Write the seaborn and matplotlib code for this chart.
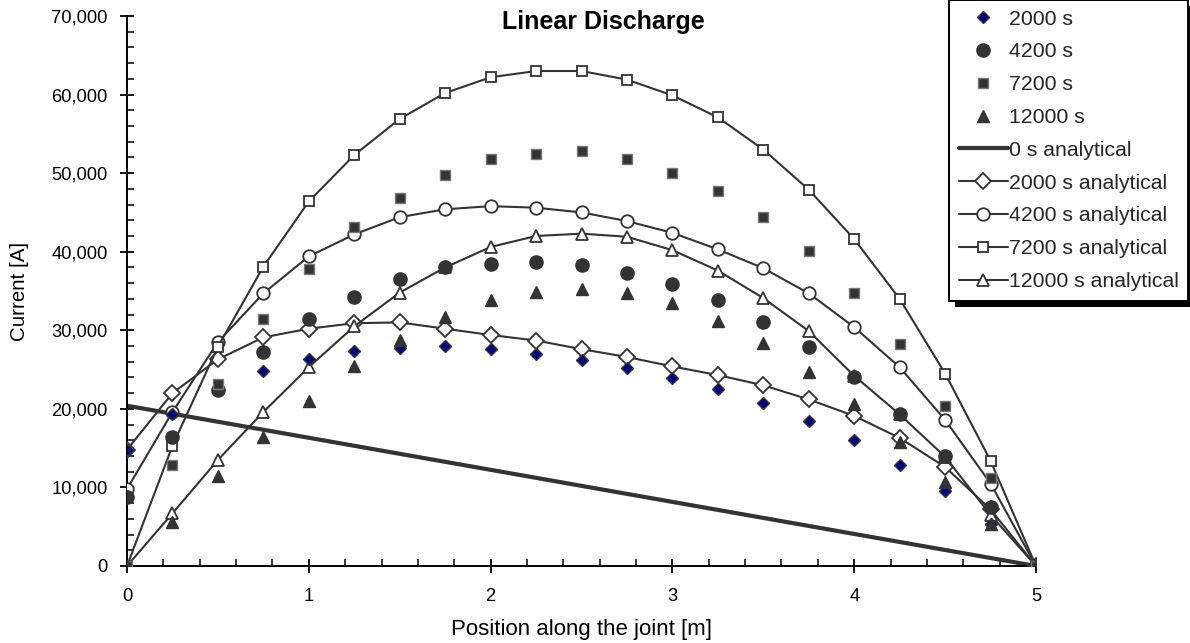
import matplotlib
matplotlib.use("Agg")
import matplotlib.pyplot as plt
import seaborn as sns
import numpy as np
from matplotlib.ticker import FuncFormatter, MultipleLocator
from matplotlib.patches import Rectangle

# ---------------- data ----------------
position = [0, 0.25, 0.5, 0.75, 1.0, 1.25, 1.5, 1.75, 2.0, 2.25, 2.5,
            2.75, 3.0, 3.25, 3.5, 3.75, 4.0, 4.25, 4.5, 4.75, 5.0]

meas_2000 = [14800, 19300, 22600, 24800, 26400, 27400, 27800, 28000, 27600, 27000, 26200,
             25200, 23900, 22500, 20700, 18500, 16000, 12900, 9500, 5300, 0]
meas_4200 = [8800, 16400, 22400, 27300, 31400, 34300, 36500, 38000, 38500, 38700, 38300,
             37300, 35900, 33900, 31100, 27900, 24100, 19400, 14000, 7500, 0]
meas_7200 = [0, 12800, 23200, 31400, 37800, 43100, 46900, 49800, 51800, 52500, 52800,
             51800, 50000, 47700, 44400, 40100, 34700, 28300, 20400, 11200, 0]
meas_12000 = [0, 5600, 11400, 16400, 21000, 25400, 28800, 31700, 33800, 34900, 35200,
              34800, 33500, 31200, 28400, 24700, 20600, 15800, 10700, 5400, 0]

pos_0s = [0, 5]
ana_0 = [20400, 0]
ana_2000 = [14800, 22000, 26300, 29100, 30200, 30900, 31000, 30200, 29400, 28700, 27600,
            26600, 25400, 24300, 23000, 21200, 19100, 16300, 12600, 7200, 0]
ana_4200 = [9800, 19600, 28500, 34700, 39400, 42200, 44400, 45400, 45800, 45600, 45000,
            43900, 42400, 40300, 37900, 34700, 30400, 25300, 18600, 10500, 0]
ana_7200 = [0, 15300, 27900, 38100, 46400, 52300, 56900, 60200, 62200, 63000, 63000,
            61900, 59900, 57100, 53000, 47900, 41600, 34000, 24500, 13400, 0]
ana_12000 = [0, 6700, 13500, 19600, 25300, 30500, 34800, 38000, 40600, 42000, 42300,
             41900, 40200, 37600, 34100, 29900, 24200, 19300, 13900, 6500, 0]

labels_meas = ["2000 s", "4200 s", "7200 s", "12000 s"]
labels_ana = ["0 s analytical", "2000 s analytical", "4200 s analytical",
              "7200 s analytical", "12000 s analytical"]

# ---------------- style ----------------
sns.set_theme(style="white")
plt.rcParams["font.family"] = ["Liberation Sans", "DejaVu Sans"]
plt.rcParams["font.size"] = 13

DARK = "#333333"
W, H = 1190, 643

fig = plt.figure(figsize=(W / 100, H / 100), dpi=100)
ax = fig.add_axes([127 / W, 1 - 566 / H, (1036 - 127) / W, (566 - 16) / H])

# analytical lines
sns.lineplot(x=pos_0s, y=ana_0, ax=ax, color=DARK, linewidth=3.0, label=labels_ana[0],
             legend=False, zorder=2)
ana_specs = [(ana_2000, "D", 8.5), (ana_4200, "o", 9.0), (ana_7200, "s", 6.5), (ana_12000, "^", 8.0)]
for (vals, mk, ms), lab in zip(ana_specs, labels_ana[1:]):
    sns.lineplot(x=position, y=vals, ax=ax, color=DARK, linewidth=1.5, marker=mk,
                 markersize=ms, markerfacecolor="white", markeredgecolor=DARK,
                 markeredgewidth=1.3, label=lab, legend=False, zorder=3)

# measured (numerical) points
meas_specs = [(meas_2000, "D", 6.5, "#000080", DARK),
              (meas_4200, "o", 9.5, DARK, DARK),
              (meas_7200, "s", 6.5, DARK, "#777777"),
              (meas_12000, "^", 8.0, DARK, DARK)]
for (vals, mk, ms, fc, ec), lab in zip(meas_specs, labels_meas):
    sns.lineplot(x=position, y=vals, ax=ax, color=fc, linestyle="none", marker=mk,
                 markersize=ms, markerfacecolor=fc, markeredgecolor=ec,
                 markeredgewidth=1.0, label=lab, legend=False, zorder=4)

# axes
ax.set_xlim(0, 5)
ax.set_ylim(0, 70000)
ax.xaxis.set_major_locator(MultipleLocator(1))
ax.xaxis.set_minor_locator(MultipleLocator(0.2))
ax.yaxis.set_major_locator(MultipleLocator(10000))
ax.yaxis.set_minor_locator(MultipleLocator(2000))
ax.yaxis.set_major_formatter(FuncFormatter(lambda v, p: f"{v:,.0f}"))
ax.xaxis.set_major_formatter(FuncFormatter(lambda v, p: f"{v:g}"))

for side in ["top", "right"]:
    ax.spines[side].set_visible(False)
for side in ["left", "bottom"]:
    ax.spines[side].set_color("black")
    ax.spines[side].set_linewidth(1.4)

ax.tick_params(axis="both", which="major", direction="inout", length=10, width=1.3,
               color="black", labelsize=13.2, labelcolor="black")
ax.tick_params(axis="both", which="minor", direction="in", length=5, width=1.1, color="black")
ax.tick_params(axis="y", which="major", pad=9)
ax.tick_params(axis="x", which="major", pad=11)
ax.tick_params(bottom=True, left=True, which="both")

ax.set_xlabel("Position along the joint [m]", fontsize=16.0, color="black", va="center")
ax.xaxis.set_label_coords(0.5, -(629 - 566) / 550)
ax.set_ylabel("Current [A]", fontsize=14.8, color="black", va="center")
ax.yaxis.set_label_coords((20 - 127) / 909, 0.5)

fig.text(603 / W, 1 - 22 / H, "Linear Discharge", ha="center", va="center",
         fontsize=18, fontweight="bold", color="black")

# legend: measured first, then analytical
handles, labels = ax.get_legend_handles_labels()
order = labels_meas + labels_ana
hmap = dict(zip(labels, handles))
leg = fig.legend([hmap[l] for l in order], order, loc="upper right",
                 bbox_to_anchor=(1188 / W, 1.0), frameon=True, fancybox=False,
                 edgecolor="black", framealpha=1, fontsize=15.3, handlelength=2.3,
                 handletextpad=0.05, labelspacing=0.65, borderpad=0.45, numpoints=1,
                 borderaxespad=0)
leg.get_frame().set_linewidth(1.4)
leg.set_zorder(10)

# solid black drop shadow for the legend box
fig.canvas.draw()
bb = leg.get_window_extent()
shadow = Rectangle((bb.x0 + 6, bb.y0 - 6), bb.width, bb.height, transform=None,
                   facecolor="black", edgecolor="none", zorder=9)
fig.add_artist(shadow)

fig.savefig("out.png", dpi=100, facecolor="white")
